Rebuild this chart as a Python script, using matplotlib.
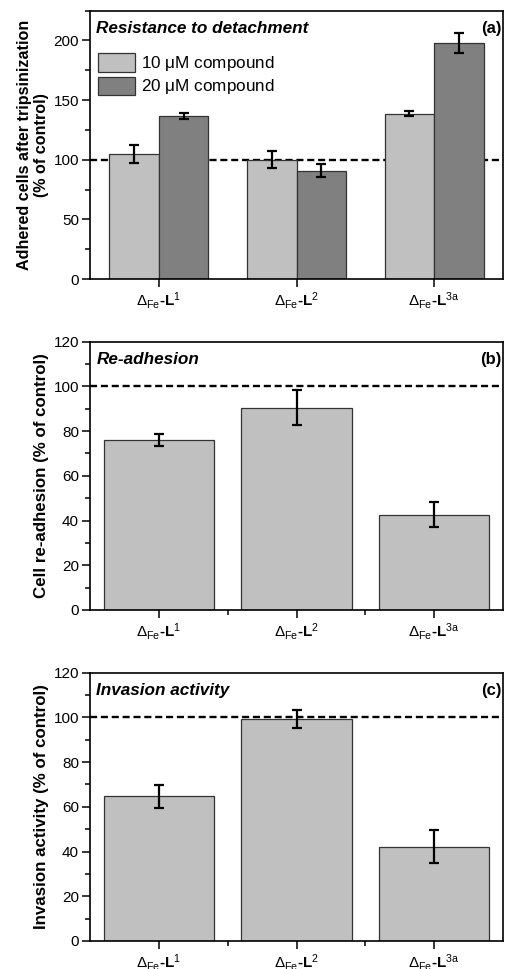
import matplotlib
matplotlib.use("Agg")
import matplotlib.pyplot as plt
import numpy as np
from matplotlib.ticker import MultipleLocator, FixedLocator

plt.rcParams["font.family"] = ["Liberation Sans", "DejaVu Sans"]
plt.rcParams["mathtext.fontset"] = "custom"
plt.rcParams["mathtext.rm"] = "Liberation Sans"
plt.rcParams["mathtext.bf"] = "Liberation Sans:bold"
plt.rcParams["mathtext.it"] = "Liberation Sans:italic"

### Data

ligands = ["1", "2", "3a"]

detach_10 = [104.5, 100.2, 138.6]
detach_10_err = [7.5, 7.0, 2.0]
detach_20 = [136.7, 91.0, 197.8]
detach_20_err = [2.7, 5.6, 8.4]

readhesion = [76.0, 90.5, 42.6]
readhesion_err = [2.8, 7.8, 5.5]

invasion = [64.7, 99.3, 42.2]
invasion_err = [5.2, 4.1, 7.5]

light = "#c0c0c0"
dark = "#808080"
edge = "#333333"


def tick_label(lig):
    return r"$\Delta_{\mathrm{Fe}}$-$\mathbf{L}^{\mathrm{" + lig + r"}}$"


def style_axis(my_axis, ylabel, ylabel_size, title, tag, ymax, major, minor, minor_x=True):
    my_axis.set_xlim(-0.5, 2.5)
    my_axis.set_ylim(0, ymax)
    my_axis.yaxis.set_major_locator(MultipleLocator(major))
    my_axis.yaxis.set_minor_locator(MultipleLocator(minor))
    my_axis.set_xticks(np.arange(3), [tick_label(l) for l in ligands])
    for t in my_axis.get_xticklabels():
        t.set_fontweight("bold")
        t.set_fontsize(11)
    if minor_x:
        my_axis.xaxis.set_minor_locator(FixedLocator([0.5, 1.5]))
    my_axis.tick_params(axis="both", which="both", direction="out", width=1.1)
    my_axis.tick_params(axis="both", which="major", length=6, pad=2)
    my_axis.tick_params(axis="y", which="major", labelsize=11)
    my_axis.tick_params(axis="both", which="minor", length=3.5)
    for s in my_axis.spines.values():
        s.set_linewidth(1.2)
    my_axis.set_ylabel(ylabel, fontsize=ylabel_size, fontweight="bold", labelpad=3)
    my_axis.text(0.015, 0.96, title, transform=my_axis.transAxes, fontsize=12.3,
                 fontweight="bold", fontstyle="italic", va="top", ha="left")
    my_axis.text(0.997, 0.96, tag, transform=my_axis.transAxes, fontsize=12,
                 fontweight="bold", va="top", ha="right")
    my_axis.axhline(100, color="black", linestyle=(0, (3, 1.6)), linewidth=1.7, zorder=1)


fig = plt.figure(figsize=(5.06, 9.69), dpi=100)
left, width, height = 0.178, 0.816, 0.277
ax_a = fig.add_axes([left, 0.712, width, height])
ax_b = fig.add_axes([left, 0.3705, width, height])
ax_c = fig.add_axes([left, 0.0289, width, height])

x = np.arange(3)
err_kw = dict(elinewidth=1.6, capthick=1.6, capsize=3.8, ecolor="black")

# (a) paired bars
bw = 0.36
ax_a.bar(x - bw / 2, detach_10, bw, yerr=detach_10_err, color=light, edgecolor=edge,
         linewidth=0.9, label=r"10 $\mathrm{\mu}$M compound", error_kw=err_kw, zorder=2)
ax_a.bar(x + bw / 2, detach_20, bw, yerr=detach_20_err, color=dark, edgecolor=edge,
         linewidth=0.9, label=r"20 $\mathrm{\mu}$M compound", error_kw=err_kw, zorder=2)
style_axis(ax_a, "Adhered cells after tripsinization\n(% of control)", 11.6,
           "Resistance to detachment", "(a)", 225, 50, 25, minor_x=False)
ax_a.legend(loc="upper left", bbox_to_anchor=(-0.01, 0.885), frameon=False, fontsize=12.3,
            handlelength=2.2, handleheight=1.25, handletextpad=0.35, labelspacing=0.2,
            borderaxespad=0.3)

# (b) re-adhesion
ax_b.bar(x, readhesion, 0.8, yerr=readhesion_err, color=light, edgecolor=edge,
         linewidth=0.9, error_kw=err_kw, zorder=2)
style_axis(ax_b, "Cell re-adhesion (% of control)", 12.2, "Re-adhesion", "(b)", 120, 20, 10)

# (c) invasion
ax_c.bar(x, invasion, 0.8, yerr=invasion_err, color=light, edgecolor=edge,
         linewidth=0.9, error_kw=err_kw, zorder=2)
style_axis(ax_c, "Invasion activity (% of control)", 12.2, "Invasion activity", "(c)", 120, 20, 10)

fig.savefig("out.png", dpi=100)
